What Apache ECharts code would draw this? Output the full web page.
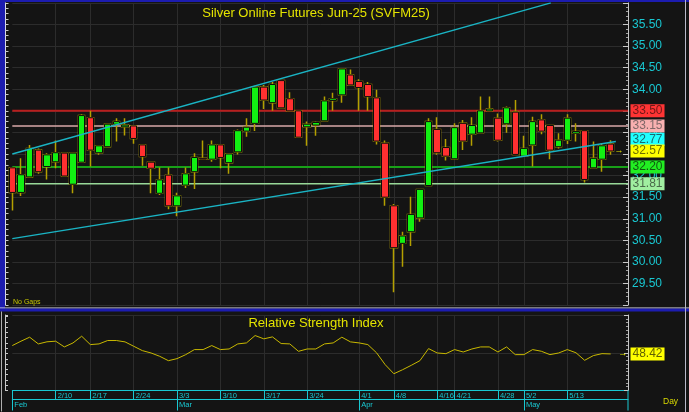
<!DOCTYPE html>
<html><head><meta charset="utf-8">
<script src="https://cdn.jsdelivr.net/npm/echarts@6/dist/echarts.min.js"></script>
<style>html,body{margin:0;padding:0;background:#141414;}#c{width:689px;height:412px;}</style>
</head><body><div id="c"></div>
<script>
const dates = ['2/3','2/4','2/5','2/6','2/7','2/10','2/11','2/12','2/13','2/17','2/18','2/19','2/20','2/21',
 '2/24','2/25','2/26','2/27','2/28','3/3','3/4','3/5','3/6','3/7','3/10','3/11','3/12','3/13','3/14',
 '3/17','3/18','3/19','3/20','3/21','3/24','3/25','3/26','3/27','3/28','3/31','4/1','4/2','4/3','4/4',
 '4/8','4/9','4/10','4/11','4/14','4/16','4/17','4/21','4/22','4/23','4/24','4/25','4/28','4/29','4/30',
 '5/2','5/5','5/6','5/7','5/8','5/13','5/14','5/15','5/16','5/19','5/20'];
const opens  = [32.18,31.61,31.97,32.59,32.21,32.32,32.52,31.80,32.31,33.34,32.53,32.67,33.19,33.13,33.15,32.71,32.31,31.59,32.01,31.30,
 31.78,32.09,32.40,32.38,32.71,32.30,32.55,33.03,33.21,34.05,33.69,34.20,33.78,33.50,33.13,33.17,33.27,33.74,33.87,34.33,
 34.18,34.11,33.80,32.75,31.30,30.43,30.70,31.02,31.77,33.07,32.65,32.39,33.21,32.96,32.99,33.50,33.33,33.20,33.47,32.45,
 32.71,33.29,33.16,32.67,32.82,32.98,33.04,32.18,32.38,32.73];
const highs  = [32.20,32.40,32.71,32.63,32.52,32.81,32.53,32.53,33.42,33.50,32.70,33.20,33.33,33.33,33.16,32.72,32.32,32.19,32.19,31.60,
 32.19,32.52,32.81,32.81,32.72,32.51,33.07,33.33,34.08,34.10,34.17,34.21,33.93,33.51,33.25,33.25,33.83,33.92,34.48,34.46,
 34.23,34.17,33.99,32.81,31.34,30.70,31.51,31.69,33.33,33.35,32.85,33.21,33.29,33.35,33.83,33.83,33.44,33.60,33.75,32.92,
 33.36,33.42,33.17,32.98,33.42,33.21,33.05,32.79,32.75,32.82];
const lows   = [31.19,31.53,31.96,32.04,31.91,32.17,31.98,31.59,32.30,32.21,32.48,32.66,32.79,32.93,32.74,32.23,31.59,31.55,31.22,31.06,
 31.71,31.69,32.38,32.32,32.17,32.04,32.49,32.90,33.03,33.54,33.50,33.56,33.49,32.88,32.69,32.92,33.26,33.50,33.69,34.09,
 33.50,33.50,32.72,31.30,29.30,29.89,30.37,30.93,31.76,32.48,32.35,32.38,32.59,32.69,32.98,33.49,32.79,32.99,32.48,32.43,
 32.21,32.96,32.38,32.63,32.73,32.79,31.84,32.17,32.09,32.48];
const closes = [31.61,32.02,32.63,32.09,32.48,32.53,31.99,32.52,33.39,32.59,32.69,33.19,33.25,33.17,32.86,32.44,32.17,31.90,31.30,31.53,
 32.04,32.42,32.38,32.71,32.42,32.50,33.04,33.12,34.05,33.75,34.11,33.57,33.50,32.89,33.19,33.23,33.73,33.78,34.47,34.10,
 34.04,33.83,32.80,31.50,30.33,30.60,31.10,31.68,33.25,32.53,32.45,33.11,32.80,33.16,33.50,33.54,32.82,33.57,32.49,32.63,
 33.25,33.03,32.59,32.82,33.33,33.02,31.91,32.40,32.69,32.57];
const rsi = [59.5,65.3,70.6,61.7,64.5,65.3,57.7,63.0,71.9,60.8,61.7,66.2,66.2,64.4,58.6,52.8,49.7,45.3,39.5,42.2,
 47.5,54.2,54.2,59.5,54.2,55.0,61.7,63.0,72.8,68.4,71.0,62.2,61.7,51.9,55.0,55.0,61.7,63.0,70.6,64.4,
 63.0,60.8,50.0,34.2,22.2,27.5,33.3,39.5,55.5,49.7,48.8,54.2,51.0,55.0,57.7,57.7,51.0,57.7,47.5,47.5,
 54.2,52.0,47.5,49.7,54.2,50.0,40.0,46.2,48.8,48.42];
const weekTicks = ['2/10','2/17','2/24','3/3','3/10','3/17','3/24','4/1','4/8','4/16','4/21','4/28','5/2','5/13'];
const monthNames = {2:'Feb',3:'Mar',4:'Apr',5:'May'};
const levels = [33.50, 33.15, 32.20, 31.81];
const upperTrend = [[0, 32.50], [62.1, 36.00]];
const lowerTrend = [[0, 30.54], [69.6, 32.79]];
const trendLast = 32.77;
const lastPrice = closes[closes.length - 1];
const rsiLast = rsi[rsi.length - 1];

// styles
const levelLine = [{c:'#b81e1e',w:2},{c:'#d8a8a8',w:1.5},{c:'#18a018',w:2},{c:'#98d898',w:1.5}];
const levelBadge = [{bg:'#ff3434',fg:'#701818'},{bg:'#f8b0b0',fg:'#806868'},{bg:'#22ee22',fg:'#105a10'},{bg:'#a0eea0',fg:'#4a6a4a'}];
const FONT = 'Liberation Sans, Arial, sans-serif';
const CYAN = '#19c8d2';
const GRIDC = '#2c2c2c';

const cats = dates.concat(['', '']);
const xMax = cats.length - 1;
const monthOf = i => parseInt(dates[i].split('/')[0], 10);
const isMonthStart = i => i < dates.length && (i === 0 || monthOf(i) !== monthOf(i - 1));
const isWeek = i => weekTicks.indexOf(cats[i]) >= 0;

const wickData = dates.map((d, i) => [opens[i], closes[i], lows[i], highs[i]]);
const bodyData = dates.map((d, i) => [opens[i], closes[i], Math.min(opens[i], closes[i]), Math.max(opens[i], closes[i])]);

function badge(v, bg, fg, off) {
  return { value: [xMax, v], label: { show: true, position: 'right', distance: 2, offset: off || [0, 0], opacity: 1,
    formatter: p => p.value[1].toFixed(2), backgroundColor: bg, color: fg, fontSize: 12, fontFamily: FONT,
    padding: [1, 2, 0, 2], lineHeight: 12 } };
}
const hiddenDot = { color: 'rgba(0,0,0,0)', opacity: 1 };

const series = [
  { type: 'candlestick', xAxisIndex: 0, yAxisIndex: 0, data: wickData, barWidth: 7, clip: false, silent: true,
    itemStyle: { color: 'transparent', color0: 'transparent', borderColor: '#b4a000', borderColor0: '#b4a000', borderColorDoji: '#b4a000', borderWidth: 1.5 } },
  { type: 'candlestick', xAxisIndex: 0, yAxisIndex: 0, data: bodyData, barWidth: 7, clip: false, silent: true,
    itemStyle: { color: '#12f012', color0: '#ff3030', borderColor: '#0c0c0c', borderColor0: '#0c0c0c', borderColorDoji: '#0c0c0c', borderWidth: 1 } }
];
levels.forEach((lv, k) => series.push({ type: 'line', xAxisIndex: 1, yAxisIndex: 0, symbol: 'none', silent: true, z: 1,
  data: [[0, lv], [xMax, lv]], lineStyle: { color: levelLine[k].c, width: levelLine[k].w } }));
[upperTrend, lowerTrend].forEach(t => series.push({ type: 'line', xAxisIndex: 1, yAxisIndex: 0, symbol: 'none', silent: true, z: 3,
  data: t, lineStyle: { color: '#1ab4c4', width: 1.5 } }));
const badges = levels.map((lv, k) => badge(lv, levelBadge[k].bg, levelBadge[k].fg));
badges.push(badge(trendLast, '#22ffff', '#1a6a70', [0, -3]));
badges.push(badge(lastPrice, '#ffff00', '#707000'));
series.push({ type: 'scatter', xAxisIndex: 1, yAxisIndex: 0, symbolSize: 1, itemStyle: hiddenDot, z: 20, silent: true, data: badges });
series.push({ type: 'scatter', xAxisIndex: 1, yAxisIndex: 0, symbolSize: 1, itemStyle: hiddenDot, z: 20, silent: true,
  data: [[69.95, lastPrice]], label: { show: true, opacity: 1, position: 'inside', formatter: '→', color: '#e0e000', fontSize: 9 } });
series.push({ type: 'line', xAxisIndex: 2, yAxisIndex: 2, data: rsi, symbol: 'none', silent: true,
  lineStyle: { color: '#c8b800', width: 1 } });
series.push({ type: 'scatter', xAxisIndex: 4, yAxisIndex: 2, symbolSize: 1, itemStyle: hiddenDot, z: 20, silent: true,
  data: [badge(rsiLast, '#ffff00', '#606000')] });
series.push({ type: 'scatter', xAxisIndex: 4, yAxisIndex: 2, symbolSize: 1, itemStyle: hiddenDot, z: 20, silent: true,
  data: [[70.4, rsiLast]], label: { show: true, opacity: 1, position: 'inside', formatter: '→', color: '#e0e000', fontSize: 9 } });

const option = {
  animation: false,
  backgroundColor: '#141414',
  textStyle: { fontFamily: FONT },
  grid: [
    { left: 12.3, right: 61, top: 2.9, height: 302.2, outerBoundsMode: 'none', containLabel: false },
    { left: 12.3, right: 61, top: 315, height: 75.5, outerBoundsMode: 'none', containLabel: false }
  ],
  xAxis: [
    { type: 'category', gridIndex: 0, data: cats, boundaryGap: false,
      axisLine: { show: false, onZero: false }, axisTick: { show: false }, axisLabel: { show: false },
      splitLine: { show: true, interval: (i) => isWeek(i), lineStyle: { color: GRIDC, width: 1 } } },
    { type: 'value', gridIndex: 0, min: 0, max: xMax, show: false, position: 'bottom', axisLine: { onZero: false } },
    { type: 'category', gridIndex: 1, data: cats, boundaryGap: false, position: 'bottom',
      axisLine: { show: true, onZero: false, lineStyle: { color: CYAN, width: 1 } },
      axisTick: { show: true, interval: (i) => isWeek(i) || isMonthStart(i), length: 9, lineStyle: { color: CYAN } },
      axisLabel: { show: true, interval: (i) => isWeek(i), color: CYAN, fontSize: 7.5, align: 'left', margin: 1.5, padding: [0, 0, 0, 2] },
      splitLine: { show: true, interval: (i) => isWeek(i), lineStyle: { color: GRIDC, width: 1 } } },
    { type: 'category', gridIndex: 1, data: cats, boundaryGap: false, position: 'bottom', offset: 9,
      axisLine: { show: true, onZero: false, lineStyle: { color: CYAN, width: 1 } },
      axisTick: { show: true, interval: (i) => isMonthStart(i), length: 11, lineStyle: { color: CYAN } },
      axisLabel: { show: true, interval: (i) => isMonthStart(i), color: CYAN, fontSize: 7.5, align: 'left', margin: 1.5, padding: [0, 0, 0, 2],
        formatter: (v, i) => isMonthStart(i) ? monthNames[monthOf(i)] : '' },
      splitLine: { show: false } },
    { type: 'value', gridIndex: 1, min: 0, max: xMax, show: false, position: 'bottom', axisLine: { onZero: false } }
  ],
  yAxis: [
    { type: 'value', gridIndex: 0, position: 'right', min: 29, max: 36, interval: 0.5, scale: true,
      axisLine: { show: true, onZero: false, lineStyle: { color: '#c8c8c8', width: 1 } },
      axisTick: { show: true, inside: true, length: 5, lineStyle: { color: '#c8c8c8' } },
      minorTick: { show: true, splitNumber: 5, length: 2, lineStyle: { color: '#a0a0a0' } },
      axisLabel: { show: true, color: CYAN, fontSize: 12, fontFamily: FONT, margin: 4, showMinLabel: false, showMaxLabel: false,
        formatter: v => v.toFixed(2) },
      splitLine: { show: true, lineStyle: { color: GRIDC, width: 1 } } },
    { type: 'value', gridIndex: 0, position: 'left', offset: 6.8, min: 29, max: 36, interval: 0.125,
      axisLine: { show: true, onZero: false, lineStyle: { color: '#d8d8e8', width: 1 } },
      axisTick: { show: true, inside: true, length: 3, lineStyle: { color: '#c8c8c8' } },
      axisLabel: { show: false }, splitLine: { show: false } },
    { type: 'value', gridIndex: 1, position: 'right', min: 0, max: 100, interval: 50,
      axisLine: { show: true, onZero: false, lineStyle: { color: '#c8c8c8', width: 1 } },
      axisTick: { show: true, inside: true, length: 4, lineStyle: { color: '#c8c8c8' } },
      minorTick: { show: true, splitNumber: 10, length: 2, lineStyle: { color: '#a0a0a0' } },
      axisLabel: { show: false },
      splitLine: { show: true, lineStyle: { color: GRIDC, width: 1 } } },
    { type: 'value', gridIndex: 1, position: 'left', offset: 7.3, min: 0, max: 100, interval: 7,
      axisLine: { show: true, onZero: false, lineStyle: { color: '#c8c8c8', width: 1 } },
      axisTick: { show: true, inside: true, length: 3, lineStyle: { color: '#c8c8c8' } },
      axisLabel: { show: false }, splitLine: { show: false } }
  ],
  graphic: [
    { type: 'rect', shape: { x: 0, y: 0, width: 689, height: 2 }, style: { fill: '#1c1cb0' }, z: 50, silent: true },
    { type: 'rect', shape: { x: 0, y: 0, width: 5, height: 309 }, style: { fill: '#1c1cb0' }, z: 50, silent: true },
    { type: 'rect', shape: { x: 0, y: 307.5, width: 689, height: 1 }, style: { fill: '#e0e0e8' }, z: 50, silent: true },
    { type: 'rect', shape: { x: 0, y: 308.5, width: 689, height: 3 }, style: { fill: '#1c1cb0' }, z: 50, silent: true },
    { type: 'rect', shape: { x: 1, y: 311.5, width: 1, height: 100 }, style: { fill: '#b0b0b0' }, z: 50, silent: true },
    { type: 'rect', shape: { x: 685, y: 0, width: 1, height: 412 }, style: { fill: '#b8b8c8' }, z: 50, silent: true },
    { type: 'rect', shape: { x: 627.5, y: 390.5, width: 1, height: 20 }, style: { fill: CYAN }, z: 50, silent: true },
    { type: 'text', x: 316, y: 13, z: 60, silent: true,
      style: { text: 'Silver Online Futures Jun-25 (SVFM25)', fill: '#e4e400', font: '13px ' + FONT, textAlign: 'center', textVerticalAlign: 'middle' } },
    { type: 'text', x: 316, y: 323, z: 60, silent: true,
      style: { text: 'Relative Strength Index', fill: '#e4e400', font: '13px ' + FONT, textAlign: 'center', textVerticalAlign: 'middle' } },
    { type: 'text', x: 13, y: 302, z: 60, silent: true,
      style: { text: 'No Gaps', fill: '#c8c800', font: '7px ' + FONT, textAlign: 'left', textVerticalAlign: 'middle' } },
    { type: 'text', x: 663, y: 402, z: 60, silent: true,
      style: { text: 'Day', fill: '#d8d800', font: '8.5px ' + FONT, textAlign: 'left', textVerticalAlign: 'middle' } }
  ],
  series: series
};
const chart = echarts.init(document.getElementById('c'), null, { renderer: 'canvas' });
chart.setOption(option);
</script></body></html>
